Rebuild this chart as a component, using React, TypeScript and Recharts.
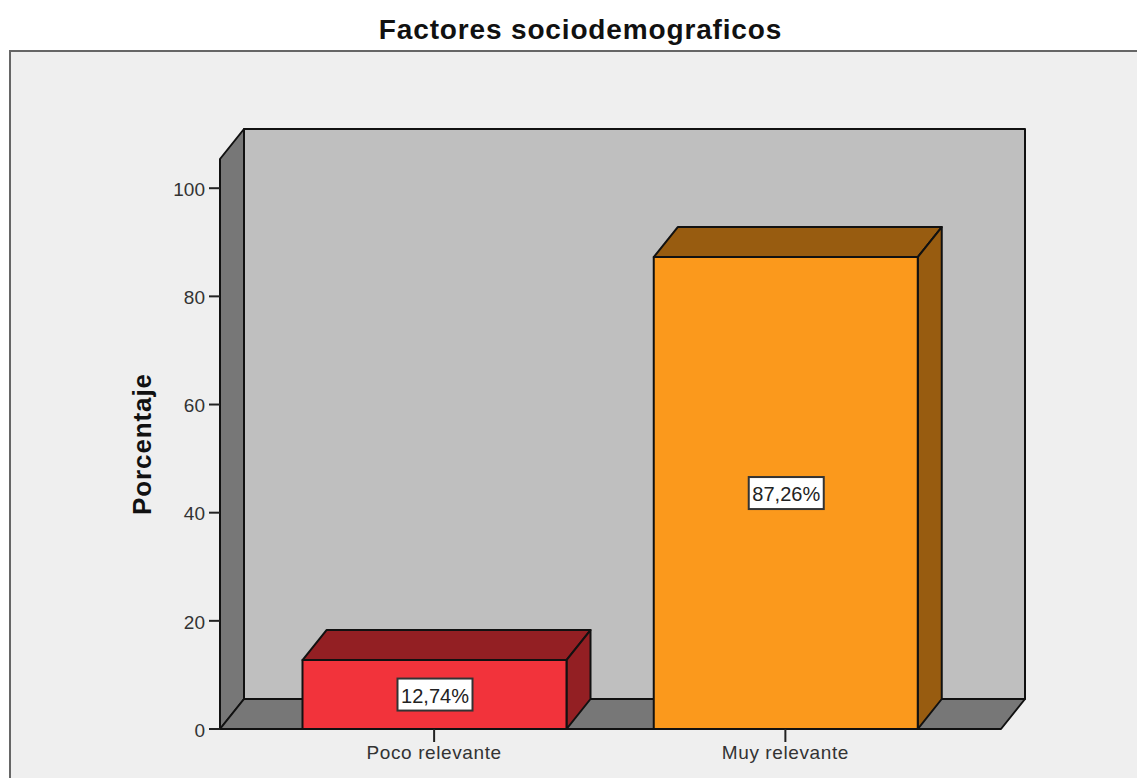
import React from 'react';
import { BarChart, Bar, XAxis, YAxis, ReferenceArea, LabelList } from 'recharts';

const categories = ['Poco relevante', 'Muy relevante'];
const percentages = [12.74, 87.26];
const yTicks = [0, 20, 40, 60, 80, 100];
const yMax = 105.4;

const frontColors = ['#F2333B', '#FB991C'];
const sideColors = ['#931F23', '#985C10'];

// 3D offset of the box and the walls behind it
const DEPTH_X = 24;
const DEPTH_Y = 30;
const PAD_LEFT = 38.5;
const PAD_RIGHT = 40;
const FONT = '"Liberation Sans", Arial, sans-serif';
const EDGE = '#111';

const data = categories.map((name, i) => ({ name, value: percentages[i] }));

const Walls = (props: any) => {
    // the reference area starts after the axis padding, so take that back out
    const x = props.x - PAD_LEFT;
    const width = props.width + PAD_LEFT + PAD_RIGHT;
    const { y, height } = props;
    const right = x + width;
    const bottom = y + height;
    return (
        <g stroke={EDGE} strokeWidth={2} strokeLinejoin="round">
            <rect x={x + DEPTH_X} y={y - DEPTH_Y} width={width} height={height} fill="#BFBFBF" />
            <polygon
                points={`${x},${y} ${x + DEPTH_X},${y - DEPTH_Y} ${x + DEPTH_X},${bottom - DEPTH_Y} ${x},${bottom}`}
                fill="#777777"
            />
            <polygon
                points={`${x},${bottom} ${x + DEPTH_X},${bottom - DEPTH_Y} ${right + DEPTH_X},${bottom - DEPTH_Y} ${right},${bottom}`}
                fill="#777777"
            />
        </g>
    );
};

const Box = (props: any) => {
    const { x, y, width, height, index } = props;
    const right = x + width;
    const bottom = y + height;
    return (
        <g stroke={EDGE} strokeWidth={2} strokeLinejoin="round">
            <polygon
                points={`${x},${y} ${x + DEPTH_X},${y - DEPTH_Y} ${right + DEPTH_X},${y - DEPTH_Y} ${right},${y}`}
                fill={sideColors[index]}
            />
            <polygon
                points={`${right},${y} ${right + DEPTH_X},${y - DEPTH_Y} ${right + DEPTH_X},${bottom - DEPTH_Y} ${right},${bottom}`}
                fill={sideColors[index]}
            />
            <rect x={x} y={y} width={width} height={height} fill={frontColors[index]} />
        </g>
    );
};

const ValueLabel = (props: any) => {
    const { x, y, width, height, value } = props;
    const cx = x + width / 2;
    const cy = y + height / 2;
    const text = `${String(value).replace('.', ',')}%`;
    return (
        <g>
            <rect x={cx - 37} y={cy - 16} width={75} height={32} fill="#fff" stroke="#333" strokeWidth={2} />
            <text x={cx + 0.5} y={cy + 8} textAnchor="middle" fontFamily={FONT} fontSize={20} fill="#222">
                {text}
            </text>
        </g>
    );
};

export default function App() {
    return (
        <div style={{ position: 'absolute', left: 0, top: 0, width: 1137, height: 778, overflow: 'hidden', background: '#fff' }}>
            <div
                style={{
                    position: 'absolute',
                    left: 9,
                    top: 50,
                    width: 1140,
                    height: 740,
                    boxSizing: 'border-box',
                    background: '#EFEFEF',
                    border: '2px solid #666',
                }}
            />
            <div
                style={{
                    position: 'absolute',
                    left: 0,
                    top: 12,
                    width: 1161,
                    textAlign: 'center',
                    fontFamily: FONT,
                    fontWeight: 'bold',
                    fontSize: 28,
                    letterSpacing: 0.85,
                    lineHeight: '36px',
                    color: '#111',
                }}
            >
                Factores sociodemograficos
            </div>
            <div style={{ position: 'absolute', left: 0, top: 0 }}>
                <BarChart width={1137} height={778} data={data} margin={{ top: 159, right: 136, bottom: 0, left: 0 }}>
                    <XAxis
                        dataKey="name"
                        height={49}
                        padding={{ left: PAD_LEFT, right: PAD_RIGHT }}
                        axisLine={{ stroke: EDGE, strokeWidth: 2 }}
                        tickLine={{ stroke: '#222', strokeWidth: 2 }}
                        tickSize={13}
                        tickMargin={4}
                        tick={{ fontFamily: FONT, fontSize: 19, fill: '#333', letterSpacing: 0.6 }}
                    />
                    <YAxis
                        width={220}
                        domain={[0, yMax]}
                        ticks={yTicks}
                        allowDataOverflow
                        axisLine={{ stroke: EDGE, strokeWidth: 2 }}
                        tickLine={{ stroke: '#222', strokeWidth: 2 }}
                        tickSize={11}
                        tickMargin={4}
                        tick={{ fontFamily: FONT, fontSize: 19, fill: '#333', dy: 1 }}
                        label={{
                            value: 'Porcentaje',
                            angle: -90,
                            position: 'insideLeft',
                            offset: 142,
                            style: { fontFamily: FONT, fontWeight: 'bold', fontSize: 26, letterSpacing: 0.9, fill: '#111', textAnchor: 'middle' },
                        }}
                    />
                    <ReferenceArea y1={0} y2={yMax} shape={<Walls />} />
                    <Bar dataKey="value" barSize={264} shape={<Box />} isAnimationActive={false}>
                        <LabelList dataKey="value" content={<ValueLabel />} />
                    </Bar>
                </BarChart>
            </div>
        </div>
    );
}
